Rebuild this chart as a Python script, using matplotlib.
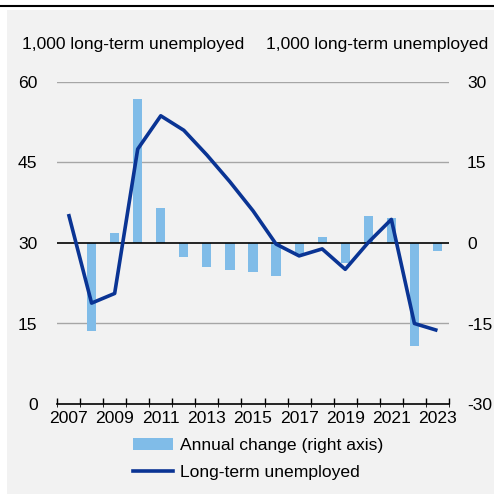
import matplotlib
matplotlib.use("Agg")
import matplotlib.pyplot as plt
from matplotlib.patches import Rectangle, Patch
from matplotlib.lines import Line2D
import numpy as np

plt.rcParams['font.family'] = ['Liberation Sans', 'DejaVu Sans']
plt.rcParams['axes.unicode_minus'] = False

years = list(range(2007, 2024))
long_term_unemployed = [35.4, 18.8, 20.6, 47.5, 53.7, 51.0, 46.4, 41.4, 36.0,
                        29.8, 27.6, 28.9, 25.1, 30.1, 34.4, 15.0, 13.7]
annual_change = [None, -16.4, 1.9, 26.8, 6.5, -2.7, -4.5, -5.0, -5.4,
                 -6.1, -2.3, 1.2, -3.7, 5.0, 4.6, -19.1, -1.4]
year_labels = [str(y) for y in range(2007, 2024, 2)]
left_ticks = [0, 15, 30, 45, 60]
right_ticks = [-30, -15, 0, 15, 30]
axis_title = "1,000 long-term unemployed"

bar_color = "#80bce8"
line_color = "#0a3494"
bg = "#f2f2f2"
FS = 12.6

W = H = 494
fig = plt.figure(figsize=(W / 100, H / 100), dpi=100, facecolor="white")
fig.patches.append(Rectangle((7 / W, 0), 1 - 7 / W, 1 - 10 / H,
                             transform=fig.transFigure, facecolor=bg,
                             edgecolor="none", zorder=0))
fig.lines.append(Line2D([0, 1], [1 - 6.2 / H] * 2, transform=fig.transFigure,
                        color="black", lw=1.5))

pos = [57 / W, 1 - 404 / H, (449 - 57) / W, (404 - 82) / H]
ax2 = fig.add_axes(pos)              # right scale: annual change bars
ax = fig.add_axes(pos, sharex=ax2)   # left scale: level line
ax.set_zorder(3)
ax2.set_zorder(2)
ax.patch.set_visible(False)
ax2.patch.set_visible(False)

x = np.arange(len(years))

# bars on right axis
bx = [xi for xi, v in zip(x, annual_change) if v is not None]
bv = [v for v in annual_change if v is not None]
ax2.bar(bx, bv, width=0.4, color=bar_color, zorder=2)
for yv in (30, 15, -15):
    ax2.axhline(yv, color="#a6a6a6", lw=1.0, zorder=1)
ax2.axhline(0, color="black", lw=1.2, zorder=3)
ax2.set_ylim(-30, 30)
ax2.set_yticks(right_ticks)
ax2.yaxis.tick_right()
ax2.tick_params(axis="y", length=0, pad=13, labelsize=FS)

# line on left axis
ax.plot(x, long_term_unemployed, color=line_color, lw=2.6, zorder=5,
        solid_capstyle="butt")
ax.set_ylim(0, 60)
ax.set_yticks(left_ticks)
ax.tick_params(axis="y", length=0, pad=14, labelsize=FS)

ax.set_xlim(-0.5, len(years) - 0.5)
ax.set_xticks(x[::2])
ax.set_xticklabels(year_labels)
ax.set_xticks(np.arange(-0.5, len(years)), minor=True)
ax.tick_params(axis="x", which="major", length=0, pad=5, labelsize=FS)
ax.tick_params(axis="x", which="minor", length=4, direction="in", width=1)
ax2.tick_params(axis="x", bottom=False, labelbottom=False)

for a in (ax, ax2):
    for s in a.spines.values():
        s.set_visible(False)
ax.spines["bottom"].set_visible(True)
ax.spines["bottom"].set_linewidth(1.2)

fig.text(22 / W, 1 - 45 / H, axis_title, fontsize=FS, ha="left", va="center")
fig.text(488 / W, 1 - 45 / H, axis_title, fontsize=FS, ha="right", va="center")

handles = [Patch(facecolor=bar_color, edgecolor="none"),
           Line2D([], [], color=line_color, lw=2.6)]
labels = ["Annual change (right axis)", "Long-term unemployed"]
fig.legend(handles, labels, loc="center", bbox_to_anchor=(258 / W, 1 - 459 / H),
           frameon=False, fontsize=FS, handlelength=2.3, handletextpad=0.35,
           labelspacing=0.7)

fig.savefig("out.png", dpi=100, facecolor=fig.get_facecolor())
